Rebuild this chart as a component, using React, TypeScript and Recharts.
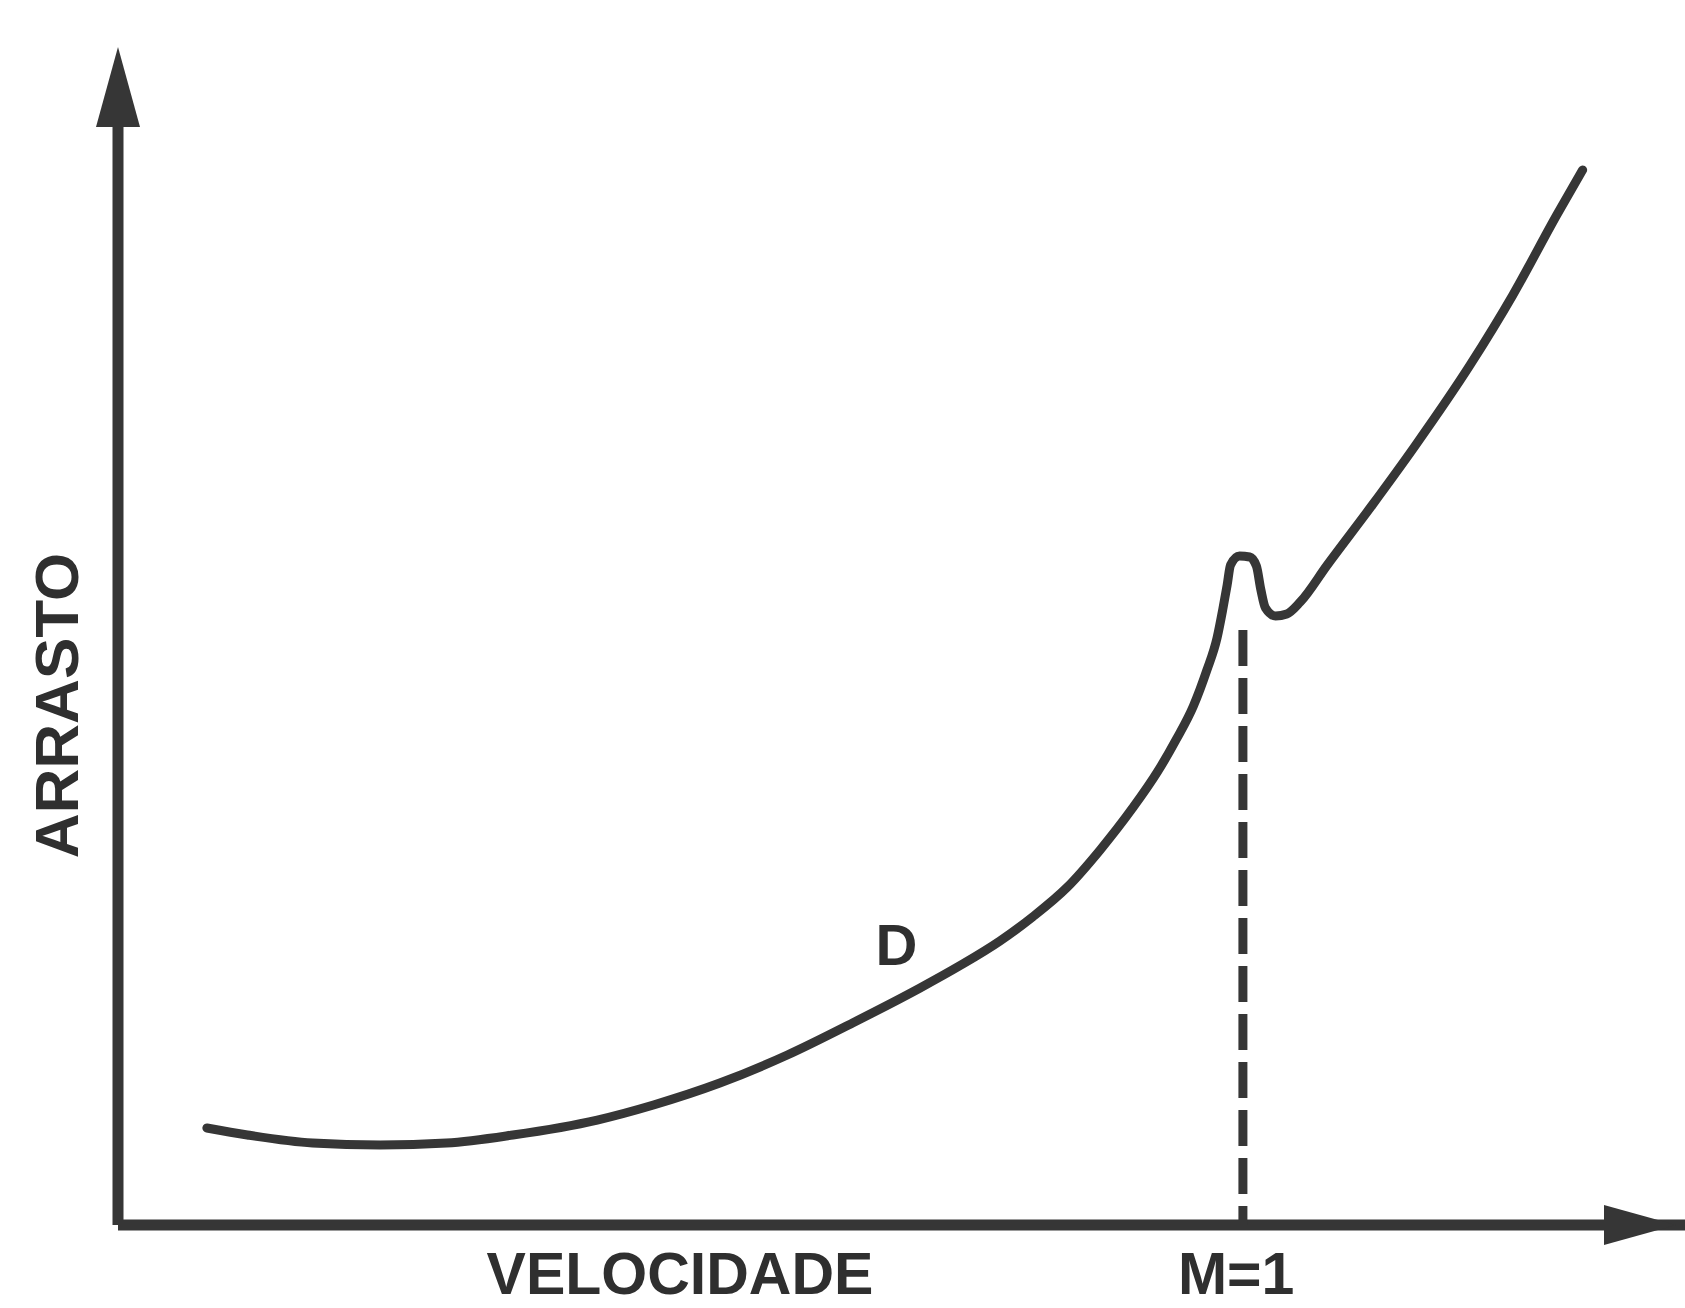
import { LineChart, Line, XAxis, YAxis, ReferenceLine, ReferenceDot } from "recharts";

// velocity in Mach number, drag in arbitrary units (0..100 = axis height)
const velocity = [
  0.079, 0.115, 0.173, 0.233, 0.292, 0.351, 0.426, 0.476, 0.535, 0.595, 0.653,
  0.713, 0.748, 0.784, 0.813, 0.844, 0.873, 0.902, 0.924, 0.941, 0.956, 0.968,
  0.977, 0.982, 0.986, 0.989, 0.997, 1.006, 1.012, 1.016, 1.02, 1.029, 1.039,
  1.051, 1.075, 1.115, 1.153, 1.202, 1.24, 1.279, 1.302,
];
const drag = [
  8.23, 7.64, 6.96, 6.79, 6.96, 7.64, 8.91, 10.19, 12.05, 14.43, 17.15, 20.12,
  21.99, 24.11, 26.15, 28.69, 31.83, 35.4, 38.46, 41.26, 44.06, 47.11, 49.83,
  52.21, 54.33, 56.03, 56.79, 56.71, 55.94, 53.9, 52.38, 51.7, 51.87, 52.89,
  56.03, 61.12, 66.13, 73.01, 78.95, 85.74, 89.56,
];

const machOne = 1;
const machTop = 50.5;
const xMax = 1.393;
const yMax = 100;

const data = velocity.map((v, i) => ({ v, d: drag[i] }));

const ink = "#363636";
const font = "'Liberation Sans', Arial, sans-serif";
const labelStyle = {
  fontSize: 62,
  fontWeight: 700,
  fill: "#2f2f2f",
  fontFamily: font,
};

const UpArrow = (props: any) => {
  const { cx, cy } = props;
  return <path d={`M${cx},${cy} L${cx - 22},${cy + 80} L${cx + 22},${cy + 80} Z`} fill={ink} />;
};

const RightArrow = (props: any) => {
  const { cx, cy } = props;
  return <path d={`M${cx},${cy} L${cx - 72},${cy - 20} L${cx - 72},${cy + 20} Z`} fill={ink} />;
};

export default function App() {
  return (
    <div style={{ position: "absolute", left: 0, top: 0, background: "#fff" }}>
      <LineChart
        width={1685}
        height={1308}
        data={data}
        margin={{ top: 47, right: 0, left: 118, bottom: 83 }}
      >
        <XAxis type="number" dataKey="v" domain={[0, xMax]} hide allowDataOverflow />
        <YAxis type="number" domain={[0, yMax]} hide allowDataOverflow />
        <ReferenceLine
          segment={[{ x: 0, y: 0 }, { x: xMax, y: 0 }]}
          stroke={ink}
          strokeWidth={11}
        />
        <ReferenceLine
          segment={[{ x: 0, y: 0 }, { x: 0, y: 96 }]}
          stroke={ink}
          strokeWidth={11}
        />
        <ReferenceDot x={0} y={yMax} r={0} shape={UpArrow} ifOverflow="visible" />
        <ReferenceDot x={1.385} y={0} r={0} shape={RightArrow} ifOverflow="visible" />
        <ReferenceLine
          segment={[{ x: machOne, y: machTop }, { x: machOne, y: 0 }]}
          stroke={ink}
          strokeWidth={9}
          strokeDasharray="36 12"
        />
        <Line
          type="monotone"
          dataKey="d"
          stroke={ink}
          strokeWidth={9}
          strokeLinecap="round"
          strokeLinejoin="round"
          dot={false}
          activeDot={false}
          isAnimationActive={false}
        />
        <ReferenceDot
          x={-0.055}
          y={44.1}
          r={0}
          ifOverflow="visible"
          label={{ value: "ARRASTO", angle: -90, position: "center", ...labelStyle }}
        />
        <ReferenceDot
          x={0.4996}
          y={-4.1}
          r={0}
          ifOverflow="visible"
          label={{ value: "VELOCIDADE", position: "center", ...labelStyle, fontSize: 59 }}
        />
        <ReferenceDot
          x={0.994}
          y={-4.1}
          r={0}
          ifOverflow="visible"
          label={{ value: "M=1", position: "center", ...labelStyle, fontSize: 59 }}
        />
        <ReferenceDot
          x={0.692}
          y={23.85}
          r={0}
          ifOverflow="visible"
          label={{ value: "D", position: "center", ...labelStyle, fontSize: 58 }}
        />
      </LineChart>
    </div>
  );
}
